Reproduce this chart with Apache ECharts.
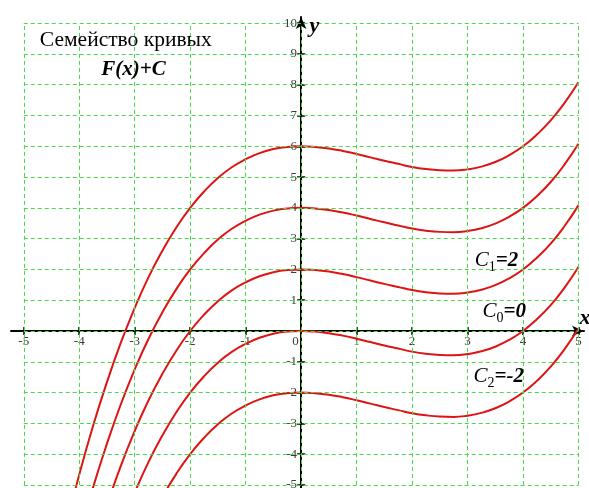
<!DOCTYPE html>
<html>
<head>
<meta charset="utf-8">
<script src="https://cdn.jsdelivr.net/npm/echarts@6/dist/echarts.min.js"></script>
<style>
  html, body { margin: 0; padding: 0; background: #fff; }
  #chart { width: 589px; height: 488px; }
</style>
</head>
<body>
<div id="chart"></div>
<script>
// Sample points of the base curve F(x) (the C = 0 member)
const xs = [-4.5, -4.25, -4, -3.75, -3.5, -3.25, -3, -2.75, -2.5, -2.25, -2, -1.75, -1.5, -1.25, -1, -0.75, -0.5, -0.25,
            0, 0.25, 0.5, 0.75, 1, 1.25, 1.5, 1.75, 2, 2.25, 2.5, 2.75, 3, 3.25, 3.5, 3.75, 4, 4.25, 4.5, 4.75, 5];
const F  = [-14.34, -12.42, -10.67, -9.08, -7.66, -6.38, -5.25, -4.25, -3.39, -2.64, -2.00, -1.47, -1.03, -0.68, -0.42, -0.22, -0.09, -0.02,
            0, -0.02, -0.07, -0.15, -0.25, -0.36, -0.47, -0.57, -0.67, -0.74, -0.78, -0.79, -0.75, -0.66, -0.51, -0.29, 0, 0.38, 0.84, 1.41, 2.08];
// Constants of the family F(x) + C
const C = [6, 4, 2, 0, -2];

// Axis ticks and labels
const xTicks = [-5, -4, -3, -2, -1, 0, 1, 2, 3, 4, 5];
const yTicks = [-5, -4, -3, -2, -1, 0, 1, 2, 3, 4, 5, 6, 7, 8, 9, 10];
const yLabels = [-5, -4, -3, -2, -1, 1, 2, 3, 4, 5, 6, 7, 8, 9, 10];

// Curve annotations: [subscript, value text, x, y]
const notes = [
  ['1', '=2', 3.13, 2.34],
  ['0', '=0', 3.27, 0.68],
  ['2', '=-2', 3.11, -1.43]
];

const SERIF = '"Liberation Serif", "Times New Roman", serif';
const RED = '#dd1414';
const GREEN = '#4ad84a';

const W = 589, H = 488;
const G = { left: 11, right: 5, top: 17, bottom: 0 };
const X_MIN = -5.23, X_MAX = 5.1, Y_MIN = -5.1, Y_MAX = 10.2;

// Axes cross at the origin: shift each axis from its grid edge to zero
const gridW = W - G.left - G.right;
const gridH = H - G.top - G.bottom;
const offBottom = -(0 - Y_MIN) / (Y_MAX - Y_MIN) * gridH;
const offTop = -(Y_MAX - 0) / (Y_MAX - Y_MIN) * gridH;
const offLeft = -(0 - X_MIN) / (X_MAX - X_MIN) * gridW;
const offRight = -(X_MAX - 0) / (X_MAX - X_MIN) * gridW;

const chart = echarts.init(document.getElementById('chart'), null, { renderer: 'canvas' });

const gridLines = [];
xTicks.forEach(function (x) {
  gridLines.push([{ coord: [x, yTicks[0]] }, { coord: [x, yTicks[yTicks.length - 1]] }]);
});
yTicks.forEach(function (y) {
  gridLines.push([{ coord: [xTicks[0], y] }, { coord: [xTicks[xTicks.length - 1], y] }]);
});

const curveSeries = C.map(function (c) {
  return {
    type: 'line',
    name: 'C=' + c,
    xAxisIndex: 0,
    yAxisIndex: 0,
    data: xs.map(function (x, i) { return [x, +(F[i] + c).toFixed(2)]; }),
    smooth: true,
    showSymbol: false,
    clip: true,
    z: 4,
    lineStyle: { color: RED, width: 2 },
    silent: true
  };
});

const tickLine = { color: '#000', width: 1.5 };
const labelStyle = { fontFamily: SERIF, fontSize: 13, color: '#3a3a3a' };

chart.setOption({
  animation: false,
  backgroundColor: '#fff',
  grid: { left: G.left, right: G.right, top: G.top, bottom: G.bottom, containLabel: false, outerBoundsMode: 'none' },
  xAxis: [
    {
      type: 'value', min: X_MIN, max: X_MAX, position: 'bottom', offset: offBottom, z: 3,
      axisLine: { onZero: false, symbol: ['none', 'arrow'], symbolSize: [8, 12],
        lineStyle: { color: '#000', width: 2 } },
      axisTick: { show: true, customValues: xTicks, length: 4, lineStyle: tickLine },
      axisLabel: Object.assign({ customValues: xTicks, margin: 4,
        formatter: function (v) { return v === 0 ? '{z|0}' : String(v); },
        rich: { z: { fontFamily: SERIF, fontSize: 13, color: '#3a3a3a', padding: [0, 11, 0, 0] } } }, labelStyle),
      splitLine: { show: false }
    },
    {
      type: 'value', min: X_MIN, max: X_MAX, position: 'top', offset: offTop, z: 3,
      axisLine: { show: false, onZero: false },
      axisTick: { show: true, customValues: xTicks, length: 4, lineStyle: tickLine },
      axisLabel: { show: false },
      splitLine: { show: false }
    }
  ],
  yAxis: [
    {
      type: 'value', min: Y_MIN, max: Y_MAX, position: 'left', offset: offLeft, z: 3,
      axisLine: { onZero: false, symbol: ['none', 'arrow'], symbolSize: [8, 12],
        lineStyle: { color: '#000', width: 2 } },
      axisTick: { show: true, customValues: yTicks, length: 4, lineStyle: tickLine },
      axisLabel: Object.assign({ customValues: yLabels, margin: 4 }, labelStyle),
      splitLine: { show: false }
    },
    {
      type: 'value', min: Y_MIN, max: Y_MAX, position: 'right', offset: offRight, z: 3,
      axisLine: { show: false, onZero: false },
      axisTick: { show: true, customValues: yTicks, length: 4, lineStyle: tickLine },
      axisLabel: { show: false },
      splitLine: { show: false }
    }
  ],
  series: [
    {
      type: 'line', name: 'grid', data: [], z: 1, silent: true,
      markLine: {
        silent: true, symbol: ['none', 'none'], animation: false,
        label: { show: false },
        lineStyle: { color: GREEN, width: 1, type: [4, 3] },
        emphasis: { disabled: true },
        data: gridLines
      }
    }
  ].concat(curveSeries)
});

function px(x, y) {
  return chart.convertToPixel({ gridIndex: 0 }, [x, y]);
}

const titlePos = px(-3.16, 9.45);
const formulaPos = px(-3.02, 8.5);
const yNamePos = px(0.15, 9.9);
const xNamePos = px(5.02, 0.4);

const graphics = [
  { type: 'text', x: titlePos[0], y: titlePos[1], z: 10,
    style: { text: 'Семейство кривых', font: '21.5px ' + SERIF, fill: '#000', align: 'center', verticalAlign: 'middle' } },
  { type: 'text', x: formulaPos[0], y: formulaPos[1], z: 10,
    style: { text: 'F(x)+C', font: 'italic bold 21px ' + SERIF, fill: '#000', align: 'center', verticalAlign: 'middle' } },
  { type: 'text', x: yNamePos[0], y: yNamePos[1], z: 10,
    style: { text: 'y', font: 'italic bold 22px ' + SERIF, fill: '#000', align: 'left', verticalAlign: 'middle' } },
  { type: 'text', x: xNamePos[0], y: xNamePos[1], z: 10,
    style: { text: 'x', font: 'italic bold 22px ' + SERIF, fill: '#000', align: 'left', verticalAlign: 'middle' } }
];

notes.forEach(function (n) {
  const p = px(n[2], n[3]);
  graphics.push({
    type: 'text', x: p[0], y: p[1] - 9, z: 10,
    style: {
      text: '{c|C}{s|' + n[0] + '}{v|' + n[1] + '}',
      align: 'left', verticalAlign: 'top',
      rich: {
        c: { fontFamily: SERIF, fontStyle: 'italic', fontSize: 21, color: '#000', lineHeight: 24, verticalAlign: 'top' },
        s: { fontFamily: SERIF, fontSize: 14, color: '#000', lineHeight: 12, verticalAlign: 'bottom' },
        v: { fontFamily: SERIF, fontStyle: 'italic', fontWeight: 'bold', fontSize: 21, color: '#000', lineHeight: 24, verticalAlign: 'top' }
      }
    }
  });
});

chart.setOption({ graphic: graphics });
</script>
</body>
</html>
